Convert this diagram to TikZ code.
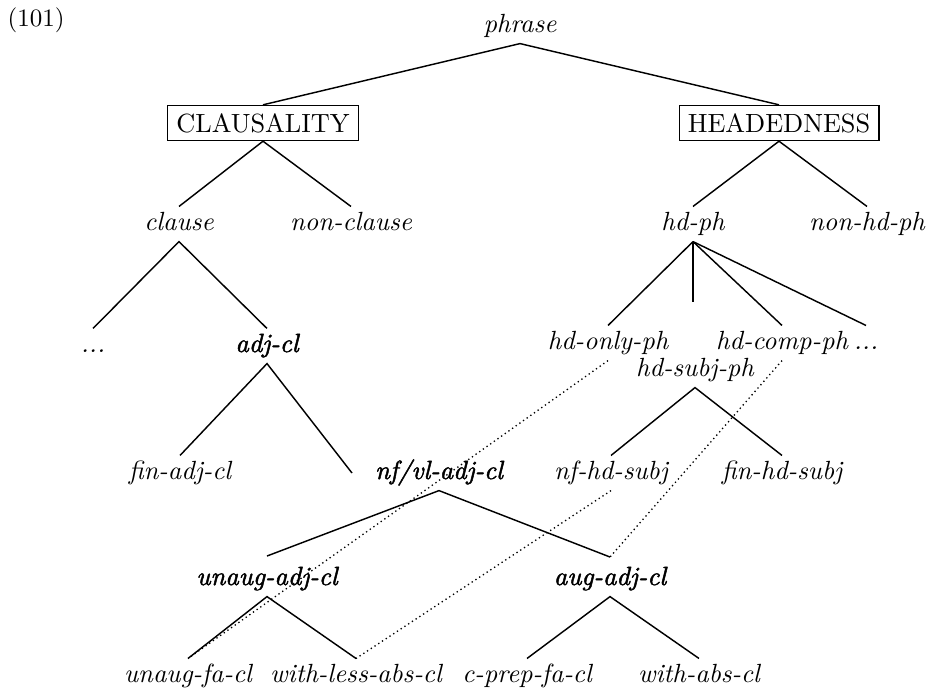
\documentclass[tikz,border=0pt]{standalone}
\usepackage{fontspec}
\newfontfamily\heavyit[FakeBold=1.8]{Latin Modern Roman}
\begin{document}
\begin{tikzpicture}[x=0.38pt,y=-0.38pt,
  lbl/.style={inner sep=0pt, anchor=base, text height=8.75pt, text depth=4.2pt,
    font=\fontsize{10}{12}\selectfont\itshape},
  key/.style={lbl, font=\heavyit\fontsize{10}{12}\selectfont\itshape},
  dim/.style={draw, line width=0.45pt, inner xsep=3.3pt, inner ysep=3pt,
    font=\fontsize{10}{12}\selectfont},
  edge/.style={line width=0.55pt},
  link/.style={line width=0.5pt, dash pattern=on 0.5pt off 1.2pt}]
\useasboundingbox (0,0) rectangle (931,689);

% example number
\node[anchor=base west, inner sep=0pt, font=\fontsize{9.5}{12}\selectfont] (num) at (7,26) {(101)};

% root and the two dimensions
\node[lbl] (phrase) at (520,32) {phrase};
\node[dim] (claus) at (263,123) {CLAUSALITY};
\node[dim] (head) at (779,123) {HEADEDNESS};

% clausality side
\node[lbl] (clause) at (179,230) {clause};
\node[lbl] (nonclause) at (351,230) {non-clause};
\node[lbl] (dotsA) at (93,352) {...};
\node[key] (adjcl) at (267,352) {adj-cl};
\node[lbl] (finadj) at (180,479) {fin-adj-cl};
\node[key] (nfvl) at (439,479) {nf/vl-adj-cl};
\node[key] (unaug) at (267,585) {unaug-adj-cl};
\node[key] (aug) at (610,585) {aug-adj-cl};
\node[lbl] (unaugfa) at (188,682) {unaug-fa-cl};
\node[lbl] (withless) at (356,682) {with-less-abs-cl};
\node[lbl] (cprep) at (527,682) {c-prep-fa-cl};
\node[lbl] (withabs) at (699,682) {with-abs-cl};

% headedness side
\node[lbl] (hdph) at (693,230) {hd-ph};
\node[lbl] (nonhdph) at (867,230) {non-hd-ph};
\node[lbl] (hdonly) at (608,349) {hd-only-ph};
\node[lbl] (hdcomp) at (782,349) {hd-comp-ph};
\node[lbl] (dotsB) at (866,349) {...};
\node[lbl] (hdsubj) at (695,376) {hd-subj-ph};
\node[lbl] (nfhd) at (611,479) {nf-hd-subj};
\node[lbl] (finhd) at (782,479) {fin-hd-subj};

% free branch ends
\coordinate (nfvlin) at (352,473);
\coordinate (hdsubjin) at (693,302);
\coordinate (unaugin) at (267,556);
\coordinate (augin) at (610,557);

% solid branches
\draw[edge] (claus.north) -- (phrase.south) -- (head.north);
\draw[edge] (clause.north) -- (claus.south) -- (nonclause.north);
\draw[edge] (hdph.north) -- (head.south) -- (nonhdph.north);
\draw[edge] (dotsA.north) -- (clause.south) -- (adjcl.north);
\draw[edge] (finadj.north) -- (adjcl.south) -- (nfvlin);
\draw[edge] (unaugin) -- (nfvl.south) -- (augin);
\draw[edge] (unaugfa.north) -- (unaug.south) -- (withless.north);
\draw[edge] (cprep.north) -- (aug.south) -- (withabs.north);
\draw[edge] (hdph.south) -- (hdonly.north);
\draw[edge] (hdph.south) -- (hdsubjin);
\draw[edge] (hdph.south) -- (hdcomp.north);
\draw[edge] (hdph.south) -- (dotsB.north);
\draw[edge] (nfhd.north) -- (hdsubj.south) -- (finhd.north);

% multiple inheritance links
\draw[link] (hdonly.south) -- (unaugfa.north);
\draw[link] (hdcomp.south) -- (augin);
\draw[link] (nfhd.south) -- (withless.north);
\end{tikzpicture}
\end{document}
